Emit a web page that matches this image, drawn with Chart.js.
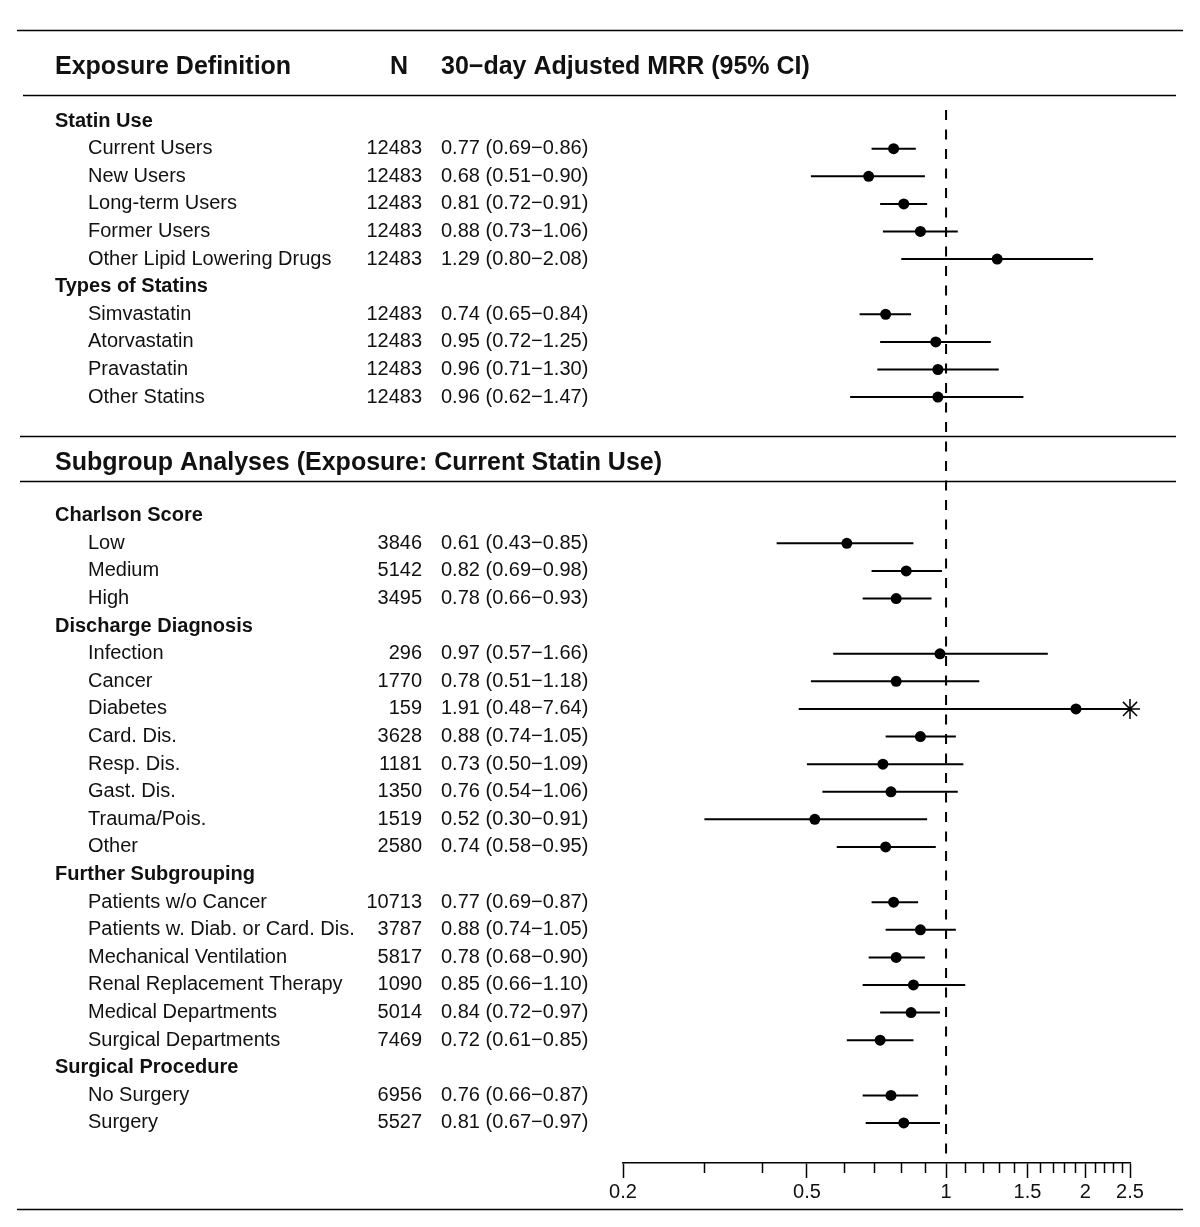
<!DOCTYPE html>
<html>
<head>
<meta charset="utf-8">
<script src="https://cdn.jsdelivr.net/npm/chart.js@4.4.0/dist/chart.umd.min.js"></script>
<style>
  body { margin: 0; background: #fff; }
  #wrap { width: 1200px; height: 1227px; position: relative; }
</style>
</head>
<body>
<div id="wrap"><canvas id="forest"></canvas></div>
<script>
// rows of the first block (Exposure Definition); null N means a group heading
const labels1 = ['Statin Use', 'Current Users', 'New Users', 'Long-term Users', 'Former Users',
    'Other Lipid Lowering Drugs', 'Types of Statins', 'Simvastatin', 'Atorvastatin',
    'Pravastatin', 'Other Statins'];
const n1 = [null, 12483, 12483, 12483, 12483, 12483, null, 12483, 12483, 12483, 12483];
const est1 = [null, 0.77, 0.68, 0.81, 0.88, 1.29, null, 0.74, 0.95, 0.96, 0.96];
const lo1 = [null, 0.69, 0.51, 0.72, 0.73, 0.80, null, 0.65, 0.72, 0.71, 0.62];
const hi1 = [null, 0.86, 0.90, 0.91, 1.06, 2.08, null, 0.84, 1.25, 1.30, 1.47];

// rows of the second block (Subgroup Analyses)
const labels2 = ['Charlson Score', 'Low', 'Medium', 'High', 'Discharge Diagnosis', 'Infection',
    'Cancer', 'Diabetes', 'Card. Dis.', 'Resp. Dis.', 'Gast. Dis.', 'Trauma/Pois.', 'Other',
    'Further Subgrouping', 'Patients w/o Cancer', 'Patients w. Diab. or Card. Dis.',
    'Mechanical Ventilation', 'Renal Replacement Therapy', 'Medical Departments',
    'Surgical Departments', 'Surgical Procedure', 'No Surgery', 'Surgery'];
const n2 = [null, 3846, 5142, 3495, null, 296, 1770, 159, 3628, 1181, 1350, 1519, 2580,
    null, 10713, 3787, 5817, 1090, 5014, 7469, null, 6956, 5527];
const est2 = [null, 0.61, 0.82, 0.78, null, 0.97, 0.78, 1.91, 0.88, 0.73, 0.76, 0.52, 0.74,
    null, 0.77, 0.88, 0.78, 0.85, 0.84, 0.72, null, 0.76, 0.81];
const lo2 = [null, 0.43, 0.69, 0.66, null, 0.57, 0.51, 0.48, 0.74, 0.50, 0.54, 0.30, 0.58,
    null, 0.69, 0.74, 0.68, 0.66, 0.72, 0.61, null, 0.66, 0.67];
const hi2 = [null, 0.85, 0.98, 0.93, null, 1.66, 1.18, 7.64, 1.05, 1.09, 1.06, 0.91, 0.95,
    null, 0.87, 1.05, 0.90, 1.10, 0.97, 0.85, null, 0.87, 0.97];

const xTicks = [0.2, 0.5, 1, 1.5, 2, 2.5];
const xMinorTicks = [0.3, 0.4, 0.6, 0.7, 0.8, 0.9, 1.1, 1.2, 1.3, 1.4, 1.6, 1.7, 1.8, 1.9,
    2.1, 2.2, 2.3, 2.4];

const XMIN = 0.2, XMAX = 2.5;
const BLOCK2_START = 14.3;   // row position of the first subgroup row

// combine both blocks into one list of rows with a y position
const rows = [];
labels1.forEach((l, i) => rows.push({ label: l, n: n1[i], est: est1[i], lo: lo1[i], hi: hi1[i], y: i }));
labels2.forEach((l, i) => rows.push({ label: l, n: n2[i], est: est2[i], lo: lo2[i], hi: hi2[i], y: BLOCK2_START + i }));
const dataRows = rows.filter(r => r.n !== null);

const fmt = v => v.toFixed(2);
const FONT = '"Liberation Sans", Arial, sans-serif';

const ciSets = dataRows.map(r => ({
    data: [{ x: r.lo, y: r.y }, { x: r.hi, y: r.y }],
    showLine: true,
    borderColor: '#000',
    borderWidth: 2,
    pointRadius: 0
}));

const tablePlugin = {
    id: 'table',
    beforeDatasetsDraw(chart) {
        const { ctx, scales: { x, y }, chartArea } = chart;
        // dashed reference line at 1
        ctx.save();
        ctx.strokeStyle = '#000';
        ctx.lineWidth = 2;
        ctx.setLineDash([10, 9.5]);
        ctx.beginPath();
        ctx.moveTo(x.getPixelForValue(1), y.getPixelForValue(-0.4));
        ctx.lineTo(x.getPixelForValue(1), chartArea.bottom);
        ctx.stroke();
        ctx.restore();
    },
    afterDraw(chart) {
        const { ctx, scales: { x, y }, chartArea } = chart;
        ctx.save();
        ctx.strokeStyle = '#000';

        // horizontal rules
        const rule = (yv, x0, x1, w) => {
            const py = Math.round(y.getPixelForValue(yv)) + 0.5;
            ctx.lineWidth = w;
            ctx.beginPath();
            ctx.moveTo(x0, py);
            ctx.lineTo(x1, py);
            ctx.stroke();
        };
        rule(-3.3, 17, 1183, 1.6);
        rule(-0.94, 23, 1176, 1.6);
        rule(11.41, 20, 1176, 1.6);
        rule(13.04, 20, 1176, 1.6);
        rule(39.42, 17, 1183, 1.6);

        // minor ticks on the x axis
        ctx.lineWidth = 1.5;
        xMinorTicks.forEach(v => {
            const px = Math.round(x.getPixelForValue(v)) + 0.5;
            ctx.beginPath();
            ctx.moveTo(px, chartArea.bottom);
            ctx.lineTo(px, chartArea.bottom + 10);
            ctx.stroke();
        });

        // column headers
        ctx.fillStyle = '#111';
        ctx.textBaseline = 'middle';
        ctx.font = 'bold 25px ' + FONT;
        const hy = y.getPixelForValue(-1.95);
        ctx.textAlign = 'left';
        ctx.fillText('Exposure Definition', 55, hy);
        ctx.textAlign = 'center';
        ctx.fillText('N', 399, hy);
        ctx.textAlign = 'left';
        ctx.fillText('30\u2212day Adjusted MRR (95% CI)', 441, hy);
        ctx.fillText('Subgroup Analyses (Exposure: Current Statin Use)', 55, y.getPixelForValue(12.38));

        // table rows
        rows.forEach(r => {
            const py = y.getPixelForValue(r.y);
            if (r.n === null) {
                ctx.font = 'bold 20px ' + FONT;
                ctx.textAlign = 'left';
                ctx.fillText(r.label, 55, py);
                return;
            }
            ctx.font = '20px ' + FONT;
            ctx.textAlign = 'left';
            ctx.fillText(r.label, 88, py);
            ctx.textAlign = 'right';
            ctx.fillText(String(r.n), 422, py);
            ctx.textAlign = 'left';
            ctx.fillText(fmt(r.est) + ' (' + fmt(r.lo) + '\u2212' + fmt(r.hi) + ')', 441, py);
        });
        ctx.restore();
    }
};

new Chart(document.getElementById('forest'), {
    type: 'scatter',
    data: {
        datasets: [
            ...ciSets,
            {
                data: dataRows.map(r => ({ x: r.est, y: r.y })),
                pointRadius: 5.5,
                pointBackgroundColor: '#000',
                pointBorderWidth: 0
            },
            {
                // upper limits beyond the axis are marked with a star
                data: dataRows.filter(r => r.hi > XMAX).map(r => ({ x: XMAX, y: r.y })),
                pointStyle: 'star',
                pointRadius: 10,
                pointBorderColor: '#000',
                pointBorderWidth: 1.5,
                clip: false
            }
        ]
    },
    options: {
        responsive: true,
        maintainAspectRatio: false,
        animation: false,
        layout: { padding: { left: 623, right: 70, top: 30, bottom: 0 } },
        plugins: { legend: { display: false }, tooltip: { enabled: false } },
        scales: {
            x: {
                type: 'logarithmic',
                min: XMIN,
                max: XMAX,
                afterBuildTicks: s => { s.ticks = xTicks.map(v => ({ value: v })); },
                afterFit: s => { s.height = 64; },
                grid: { drawOnChartArea: false, color: '#000', tickLength: 15, tickWidth: 1.5 },
                border: { display: true, color: '#000', width: 1.5 },
                ticks: {
                    autoSkip: false,
                    maxRotation: 0,
                    padding: 2,
                    color: '#111',
                    font: { family: FONT, size: 20 },
                    callback: v => String(v)
                }
            },
            y: {
                type: 'linear',
                reverse: true,
                min: -3.3,
                max: 37.75,
                display: false
            }
        }
    },
    plugins: [tablePlugin]
});
</script>
</body>
</html>
